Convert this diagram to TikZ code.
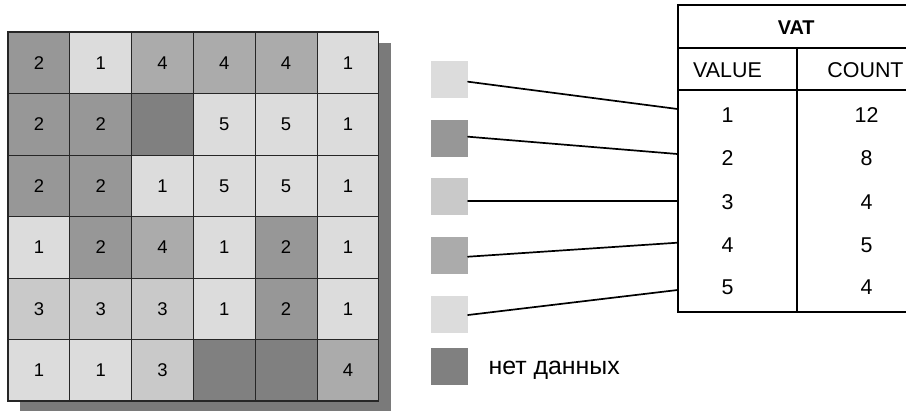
\documentclass[tikz,border=0pt]{standalone}
\usepackage{fontspec}
\setmainfont{Liberation Sans}
\definecolor{v1}{HTML}{DCDCDC}
\definecolor{v2}{HTML}{979797}
\definecolor{v3}{HTML}{C9C9C9}
\definecolor{v4}{HTML}{ABABAB}
\definecolor{v5}{HTML}{DCDCDC}
\definecolor{vN}{HTML}{808080}
\definecolor{shd}{HTML}{7A7A7A}
\tikzset{
  cellbox/.style={draw=black!85, line width=0.8bp, minimum width=61.8bp, minimum height=61.5bp, inner sep=0pt, font=\fontsize{18.5}{18.5}\selectfont},
  legbox/.style={minimum size=37bp, inner sep=0pt},
  tabtxt/.style={inner sep=0pt, font=\fontsize{21.5}{21.5}\selectfont},
  conn/.style={line width=1.7bp, black, line cap=round},
  tabline/.style={line width=2bp, black}
}
\begin{document}
\begin{tikzpicture}[x=1bp,y=-1bp]
\useasboundingbox (0,0) rectangle (906,410);
\clip (0,0) rectangle (906,410);
% shadow
\fill[shd] (20,43.3) rectangle (390.5,415);
% grid rows
\foreach \row/\vals in {
  0/{2/2,1/1,4/4,4/4,4/4,1/1},
  1/{2/2,2/2,N/{},5/5,5/5,1/1},
  2/{2/2,2/2,1/1,5/5,5/5,1/1},
  3/{1/1,2/2,4/4,1/1,2/2,1/1},
  4/{3/3,3/3,3/3,1/1,2/2,1/1},
  5/{1/1,1/1,3/3,N/{},N/{},4/4}} {
  \foreach \v/\t [count=\i from 0] in \vals {
    \node[cellbox, fill=v\v] (g-\row-\i) at ({8+61.8*\i+30.9},{32+61.5*\row+30.75}) {\t};
  }
}
\draw[black!85, line width=1.2bp] (8,32) rectangle (378.8,401);
% legend
\node[legbox, fill=v1] (l1) at (449.5,79.2) {};
\node[legbox, fill=v2] (l2) at (449.5,138) {};
\node[legbox, fill=v3] (l3) at (449.5,196.5) {};
\node[legbox, fill=v4] (l4) at (449.5,255.5) {};
\node[legbox, fill=v5] (l5) at (449.5,314.5) {};
\node[legbox, fill=vN] (lN) at (449.5,366.3) {};
\node[anchor=base west, inner sep=0pt, font=\fontsize{25}{25}\selectfont] (nd) at (488.3,374) {нет данных};
% table
\draw[tabline] (677.5,4.7) rectangle (940,312.3);
\draw[tabline] (677.5,47.7) -- (940,47.7);
\draw[tabline] (677.5,90.3) -- (940,90.3);
\draw[tabline] (796.7,47.7) -- (796.7,312.3);
\node[tabtxt, font=\fontsize{20}{20}\selectfont\bfseries] (vat) at (796.2,28) {VAT};
\node[tabtxt] (hv) at (727.5,70) {VALUE};
\node[tabtxt] (hc) at (865.5,70) {COUNT};
\foreach \y/\a/\b [count=\k] in {115/1/12,158/2/8,201.7/3/4,245/4/5,287/5/4} {
  \node[tabtxt] (r\k v) at (727.5,\y) {\a};
  \node[tabtxt] (r\k c) at (866.5,\y) {\b};
}
% connector ends
\coordinate (s1) at (468,81.7);   \coordinate (e1) at (677.5,109);
\coordinate (s2) at (468,136.7);  \coordinate (e2) at (677.5,154);
\coordinate (s3) at (468,200.7);  \coordinate (e3) at (677.5,200.7);
\coordinate (s4) at (468,256.7);  \coordinate (e4) at (677.5,242.7);
\coordinate (s5) at (468,315);    \coordinate (e5) at (677.5,290);
\foreach \k in {1,...,5} { \draw[conn] (s\k) -- (e\k); }
\end{tikzpicture}
\end{document}
